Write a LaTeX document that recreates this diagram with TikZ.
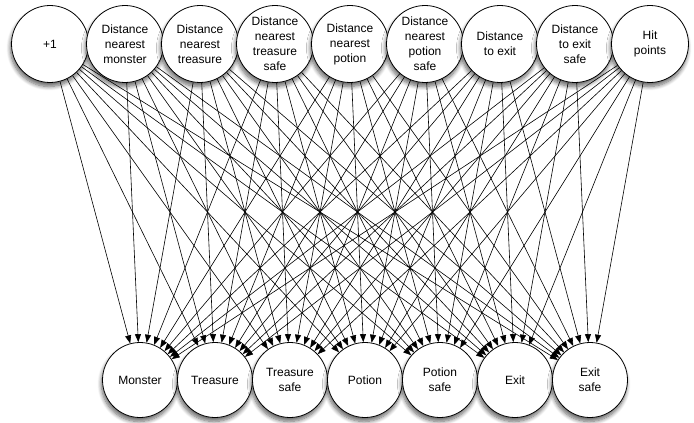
\documentclass[tikz,border=0pt]{standalone}
\usepackage{fontspec}
\setmainfont{Liberation Sans}
\usetikzlibrary{arrows.meta,shadows.blur}
\begin{document}
\begin{tikzpicture}[x=1pt,y=-1pt,
  unit/.style={circle,draw,fill=white,line width=0.8pt,inner sep=0pt,align=center,
    font=\fontsize{12}{15}\selectfont,
    blur shadow={shadow xshift=-1pt,shadow yshift=-4pt,shadow blur steps=8,shadow blur radius=4pt,shadow opacity=60}},
  topunit/.style={unit,minimum size=77pt},
  botunit/.style={unit,minimum size=75pt},
  conn/.style={line width=0.6pt,-{Triangle[length=8pt,width=6pt]}}]
\useasboundingbox (0,0) rectangle (694,423);
\node[topunit] (t1) at (50,44) {+1};
\node[topunit] (t2) at (125,44) {Distance\\nearest\\monster};
\node[topunit] (t3) at (200,44) {Distance\\nearest\\treasure};
\node[topunit] (t4) at (275,44) {Distance\\nearest\\treasure\\safe};
\node[topunit] (t5) at (350,44) {Distance\\nearest\\potion};
\node[topunit] (t6) at (425,44) {Distance\\nearest\\potion\\safe};
\node[topunit] (t7) at (500,44) {Distance\\to exit};
\node[topunit] (t8) at (575,44) {Distance\\to exit\\safe};
\node[topunit] (t9) at (650,44) {Hit\\points};
\node[botunit] (b1) at (140,380) {Monster};
\node[botunit] (b2) at (215,380) {Treasure};
\node[botunit] (b3) at (290,380) {Treasure\\safe};
\node[botunit] (b4) at (365,380) {Potion};
\node[botunit] (b5) at (440,380) {Potion\\safe};
\node[botunit] (b6) at (515,380) {Exit};
\node[botunit] (b7) at (590,380) {Exit\\safe};
\foreach \i in {1,...,9}{
  \foreach \j in {1,...,7}{
    \draw[conn] (t\i) -- (b\j);
  }
}
\end{tikzpicture}
\end{document}
